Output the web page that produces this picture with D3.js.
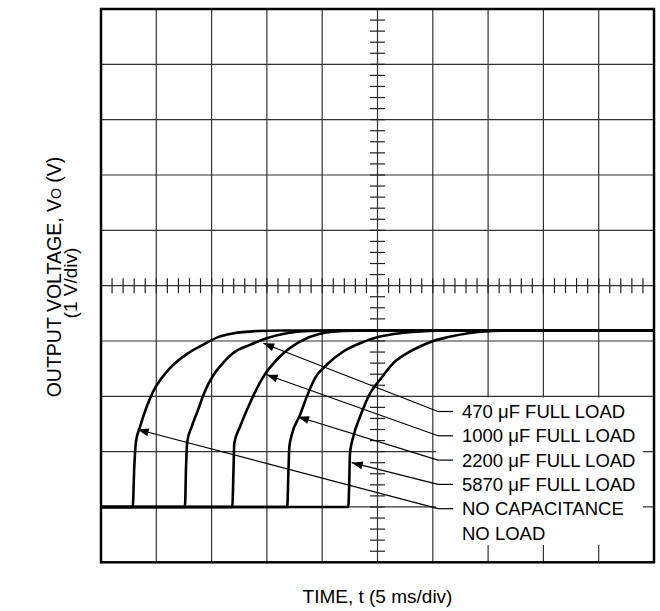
<!DOCTYPE html>
<meta charset="utf-8">
<style>
body { margin: 0; background: #fff; }
text { font-family: Arial, "Liberation Sans", sans-serif; fill: #000; }
</style>
<svg width="660" height="611"></svg>
<script src="https://d3js.org/d3.v7.min.js"></script>
<script>

// time in ms (5 ms/div), output voltage in V (1 V/div)
var timeDivs = d3.range(0, 51, 5);
var voltDivs = d3.range(-1, 10, 1);

var noCap = [[0,0],[2.87,0],[3.01,0.73],[3.16,1.18],[3.53,1.45],[4.13,1.81],[4.88,2.15],[5.49,2.33],
             [6.39,2.54],[7.89,2.78],[9.22,2.93],[10.58,3.07],[11.91,3.136],[14.17,3.18],[16.4,3.19],[50,3.19]];
var cap470 = [[0,0],[7.59,0],[7.69,0.73],[7.80,1.18],[8.20,1.45],[8.77,1.75],[9.31,2.05],[10.15,2.38],
              [10.76,2.54],[11.93,2.78],[13.47,2.93],[14.98,3.05],[16.79,3.14],[18.9,3.18],[21.2,3.19],[50,3.19]];
var cap1000 = [[0,0],[11.87,0],[11.98,0.67],[12.05,1.15],[12.57,1.45],[13.47,1.88],[14.67,2.35],
               [16.18,2.72],[17.99,2.99],[19.8,3.13],[21.88,3.18],[24.3,3.19],[50,3.19]];
var cap2200 = [[0,0],[16.84,0],[16.95,0.67],[17.03,1.09],[17.24,1.30],[17.99,1.66],[18.6,1.99],
               [19.35,2.33],[20.41,2.57],[21.91,2.81],[23.42,2.96],[25.23,3.08],[27.03,3.14],
               [28.84,3.17],[30.65,3.19],[50,3.19]];
var cap5870 = [[0,0],[22.36,0],[22.45,0.49],[22.51,0.97],[22.81,1.27],[23.42,1.63],[24.32,2.05],
               [25.23,2.30],[26.43,2.60],[27.94,2.81],[28.84,2.90],[30.05,3.0],[31.40,3.07],
               [33.21,3.14],[35.47,3.18],[37.7,3.19],[50,3.19]];

var labels = ["470 \u03BCF FULL LOAD", "1000 \u03BCF FULL LOAD", "2200 \u03BCF FULL LOAD",
              "5870 \u03BCF FULL LOAD", "NO CAPACITANCE"];
var arrowTips = [[14.67,2.96],[14.98,2.39],[17.81,1.63],[22.67,0.80],[3.32,1.40]];

var svg = d3.select("svg");
var pLeft = 101, pRight = 654, pTop = 9, pBottom = 562.3;

var x = d3.scaleLinear().domain([0, 50]).range([pLeft, pRight]);
var y = d3.scaleLinear().domain([-1, 9]).range([pBottom, pTop]);

// grid
svg.append("g").selectAll("line")
    .data(timeDivs.slice(1, -1))
    .enter().append("line")
    .attr("x1", d => x(d)).attr("x2", d => x(d))
    .attr("y1", pTop).attr("y2", pBottom)
    .attr("stroke", "#333").attr("stroke-width", 1.2);

svg.append("g").selectAll("line")
    .data(voltDivs.slice(1, -1))
    .enter().append("line")
    .attr("x1", pLeft).attr("x2", pRight)
    .attr("y1", d => y(d)).attr("y2", d => y(d))
    .attr("stroke", "#333").attr("stroke-width", 1.2);

// minor ticks on the centre axes
var xc = x(25), yc = y(4);
svg.append("g").selectAll("line")
    .data(d3.range(0, 50.01, 1))
    .enter().append("line")
    .attr("x1", d => x(d)).attr("x2", d => x(d))
    .attr("y1", yc - 7.5).attr("y2", yc + 7.5)
    .attr("stroke", "#222").attr("stroke-width", 1.2);

svg.append("g").selectAll("line")
    .data(d3.range(-1, 9.01, 0.2))
    .enter().append("line")
    .attr("x1", xc - 7.5).attr("x2", xc + 7.5)
    .attr("y1", d => y(d)).attr("y2", d => y(d))
    .attr("stroke", "#222").attr("stroke-width", 1.2);

// white box behind the labels
svg.append("rect")
    .attr("x", 436).attr("y", 397.5)
    .attr("width", 207).attr("height", 147.5)
    .attr("fill", "#fff");

// traces
var line = d3.line()
    .x(d => x(d[0]))
    .y(d => y(d[1]))
    .curve(d3.curveMonotoneX);

svg.append("g").selectAll("path")
    .data([noCap, cap470, cap1000, cap2200, cap5870])
    .enter().append("path")
    .attr("d", line)
    .attr("fill", "none")
    .attr("stroke", "#000")
    .attr("stroke-width", 2.6)
    .attr("stroke-linejoin", "round");

// labels with leader arrows
var labelY0 = 411.5, labelStep = 24.3;

labels.forEach(function(lab, i) {
    var ly = labelY0 + i * labelStep;
    var tx = x(arrowTips[i][0]), ty = y(arrowTips[i][1]);

    svg.append("line")
        .attr("x1", 438).attr("y1", ly).attr("x2", 453).attr("y2", ly)
        .attr("stroke", "#000").attr("stroke-width", 1.2);
    svg.append("line")
        .attr("x1", 438).attr("y1", ly).attr("x2", tx).attr("y2", ty)
        .attr("stroke", "#000").attr("stroke-width", 1.2);

    var ang = Math.atan2(ly - ty, 438 - tx);
    var len = 11, hw = 4;
    var bx = tx + len * Math.cos(ang), by = ty + len * Math.sin(ang);
    var px = -Math.sin(ang) * hw, py = Math.cos(ang) * hw;
    svg.append("polygon")
        .attr("points", [[tx, ty], [bx + px, by + py], [bx - px, by - py]].join(" "))
        .attr("fill", "#000");

    svg.append("text")
        .attr("x", 462).attr("y", ly + 6.4)
        .attr("font-size", "18.5px")
        .text(lab);
});

svg.append("text")
    .attr("x", 462).attr("y", labelY0 + 4 * labelStep + 6.4 + 24.5)
    .attr("font-size", "18.5px")
    .text("NO LOAD");

// frame
svg.append("rect")
    .attr("x", pLeft).attr("y", pTop)
    .attr("width", pRight - pLeft).attr("height", pBottom - pTop)
    .attr("fill", "none").attr("stroke", "#000").attr("stroke-width", 2.5);

// axis titles
svg.append("text")
    .attr("x", (pLeft + pRight) / 2).attr("y", 603)
    .attr("text-anchor", "middle")
    .attr("font-size", "19px")
    .text("TIME, t (5 ms/div)");

var yt = svg.append("text")
    .attr("transform", "translate(61,277) rotate(-90)")
    .attr("text-anchor", "middle")
    .attr("font-size", "19.5px");
yt.append("tspan").text("OUTPUT VOLTAGE, V");
yt.append("tspan").attr("font-size", "14px").text("O");
yt.append("tspan").text(" (V)");

svg.append("text")
    .attr("transform", "translate(77,283) rotate(-90)")
    .attr("text-anchor", "middle")
    .attr("font-size", "19px")
    .text("(1 V/div)");

</script>
